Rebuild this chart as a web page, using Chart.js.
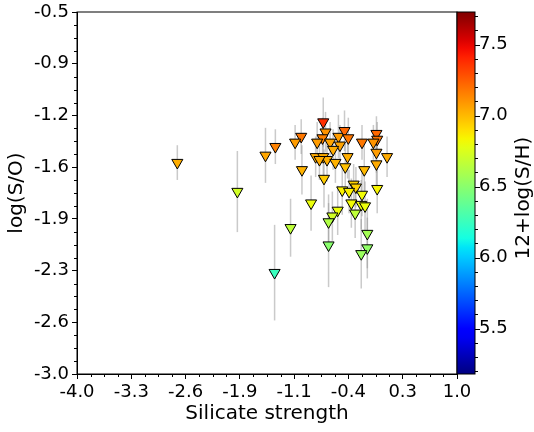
<!DOCTYPE html>
<html>
<head>
<meta charset="utf-8">
<script src="https://cdn.jsdelivr.net/npm/chart.js@4.4.1/dist/chart.umd.min.js"></script>
<style>
  html, body { margin: 0; padding: 0; background: #fff; }
</style>
</head>
<body>
<canvas id="silicateChart" width="534" height="432"></canvas>
<script>
// silicate strength (x), log(S/O) (y), its error, 12+log(S/H) (colour)
var silicate = [-2.68, -1.89, -1.52, -1.39, -1.19, -1.40, -1.05, -1.13, -1.04, -0.92,
  -0.76, -0.73, -0.77, -0.84, -0.67, -0.56, -0.48, -0.43, -0.54, -0.63,
  -0.86, -0.76, -0.71, -0.81, -0.60, -0.44, -0.47, -0.25, -0.06, -0.05,
  -0.10, -0.06, 0.08, -0.06, -0.22, -0.75, -0.51, -0.36, -0.33, -0.42,
  -0.25, -0.05, -0.39, -0.26, -0.21, -0.57, -0.64, -0.69, -0.34, -0.69,
  -0.18, -0.18, -0.26];
var logSO = [-1.54, -1.74, -1.49, -1.43, -1.99, -2.30, -1.36, -1.40, -1.59, -1.82,
  -1.26, -1.33, -1.37, -1.40, -1.40, -1.36, -1.32, -1.37, -1.42, -1.45,
  -1.50, -1.50, -1.52, -1.52, -1.54, -1.50, -1.57, -1.40, -1.34, -1.38,
  -1.40, -1.47, -1.50, -1.55, -1.59, -1.65, -1.73, -1.69, -1.71, -1.74,
  -1.76, -1.72, -1.82, -1.83, -1.84, -1.87, -1.91, -1.95, -1.89, -2.11,
  -2.03, -2.13, -2.17];
var logSOerr = [0.12, 0.28, 0.19, 0.12, 0.20, 0.33, 0.12, 0.12, 0.17, 0.19,
  0.17, 0.14, 0.14, 0.14, 0.14, 0.15, 0.14, 0.14, 0.14, 0.14,
  0.14, 0.15, 0.15, 0.14, 0.14, 0.15, 0.17, 0.12, 0.12, 0.12,
  0.12, 0.14, 0.14, 0.15, 0.17, 0.20, 0.17, 0.14, 0.14, 0.15,
  0.15, 0.17, 0.17, 0.17, 0.17, 0.17, 0.17, 0.19, 0.17, 0.29,
  0.24, 0.21, 0.24];
var logSH = [7.03, 6.72, 7.05, 7.15, 6.66, 6.25, 7.18, 7.08, 7.02, 6.80,
  7.38, 7.10, 7.15, 7.08, 7.06, 7.08, 7.22, 7.18, 7.06, 7.04,
  7.04, 7.03, 7.03, 7.04, 7.02, 7.03, 6.98, 7.18, 7.22, 7.18,
  7.10, 7.08, 7.04, 7.04, 7.00, 6.95, 6.85, 6.93, 6.93, 6.85,
  6.82, 6.84, 6.82, 6.80, 6.80, 6.80, 6.72, 6.62, 6.66, 6.50,
  6.58, 6.52, 6.55];

var xTickValues = [-4.0, -3.2857, -2.5714, -1.8571, -1.1429, -0.4286, 0.2857, 1.0];
var xTickLabels = ["-4.0", "-3.3", "-2.6", "-1.9", "-1.1", "-0.4", "0.3", "1.0"];
var yTickValues = [-3.0, -2.6429, -2.2857, -1.9286, -1.5714, -1.2143, -0.8571, -0.5];
var yTickLabels = ["-3.0", "-2.6", "-2.3", "-1.9", "-1.6", "-1.2", "-0.9", "-0.5"];
var cbTickValues = [5.5, 6.0, 6.5, 7.0, 7.5];
var cbMin = 5.18, cbMax = 7.73;

var FONT = "'DejaVu Sans', sans-serif";

// matplotlib "jet" segment data
var jetR = [[0, 0], [0.35, 0], [0.66, 1], [0.89, 1], [1, 0.5]];
var jetG = [[0, 0], [0.125, 0], [0.375, 1], [0.64, 1], [0.91, 0], [1, 0]];
var jetB = [[0, 0.5], [0.11, 1], [0.34, 1], [0.65, 0], [1, 0]];
function seg(pts, t) {
  for (var i = 1; i < pts.length; i++) {
    if (t <= pts[i][0]) {
      var a = pts[i - 1], b = pts[i];
      return a[1] + (b[1] - a[1]) * (t - a[0]) / (b[0] - a[0]);
    }
  }
  return pts[pts.length - 1][1];
}
function jet(t) {
  t = Math.max(0, Math.min(1, t));
  return "rgb(" + Math.round(seg(jetR, t) * 255) + "," + Math.round(seg(jetG, t) * 255) + "," +
    Math.round(seg(jetB, t) * 255) + ")";
}
function colourFor(v) { return jet((v - cbMin) / (cbMax - cbMin)); }

function minorBetween(majors) {
  var out = [];
  for (var i = 0; i < majors.length - 1; i++) {
    var step = (majors[i + 1] - majors[i]) / 4;
    for (var k = 1; k < 4; k++) out.push(majors[i] + k * step);
  }
  return out;
}

function noPad(s) { s.paddingTop = 0; s.paddingBottom = 0; s.paddingLeft = 0; s.paddingRight = 0; }

var points = silicate.map(function (x, i) { return { x: x, y: logSO[i] }; });

var extras = {
  id: "extras",
  beforeDatasetsDraw: function (chart) {
    var ctx = chart.ctx, xs = chart.scales.x, ys = chart.scales.y;
    ctx.save();
    ctx.strokeStyle = "rgba(150,150,150,0.5)";
    ctx.lineWidth = 1.5;
    for (var i = 0; i < silicate.length; i++) {
      var px = xs.getPixelForValue(silicate[i]);
      ctx.beginPath();
      ctx.moveTo(px, ys.getPixelForValue(logSO[i] - logSOerr[i]));
      ctx.lineTo(px, ys.getPixelForValue(logSO[i] + logSOerr[i]));
      ctx.stroke();
    }
    ctx.restore();
  },
  afterDraw: function (chart) {
    var ctx = chart.ctx, a = chart.chartArea;
    var xs = chart.scales.x, ys = chart.scales.y, cs = chart.scales.cb;
    ctx.save();
    ctx.strokeStyle = "#000";
    ctx.lineWidth = 1;
    ctx.strokeRect(a.left, a.top, a.right - a.left, a.bottom - a.top);

    // minor ticks
    ctx.beginPath();
    minorBetween(xTickValues).forEach(function (v) {
      var px = Math.round(xs.getPixelForValue(v)) + 0.5;
      ctx.moveTo(px, a.bottom); ctx.lineTo(px, a.bottom + 3);
    });
    minorBetween(yTickValues).forEach(function (v) {
      var py = Math.round(ys.getPixelForValue(v)) + 0.5;
      ctx.moveTo(a.left, py); ctx.lineTo(a.left - 3, py);
    });
    ctx.stroke();

    // colour bar
    var barL = a.right, barW = 18;
    var top = cs.getPixelForValue(cbMax), bot = cs.getPixelForValue(cbMin);
    var grad = ctx.createLinearGradient(0, bot, 0, top);
    for (var s = 0; s <= 40; s++) grad.addColorStop(s / 40, jet(s / 40));
    ctx.fillStyle = grad;
    ctx.fillRect(barL, top, barW, bot - top);
    ctx.strokeRect(barL, top, barW, bot - top);
    ctx.beginPath();
    for (var m = 52; m <= 77; m++) {
      var v = m / 10;
      var major = cbTickValues.indexOf(v) >= 0;
      var py = Math.round(cs.getPixelForValue(v)) + 0.5;
      ctx.moveTo(barL + barW, py);
      ctx.lineTo(barL + barW + (major ? 5 : 3), py);
    }
    ctx.stroke();

    ctx.translate(524, (top + bot) / 2 + 5);
    ctx.rotate(-Math.PI / 2);
    ctx.fillStyle = "#000";
    ctx.font = "20px " + FONT;
    ctx.textAlign = "center";
    ctx.textBaseline = "middle";
    ctx.fillText("12+log(S/H)", 0, 0);
    ctx.restore();
  }
};

new Chart(document.getElementById("silicateChart"), {
  type: "scatter",
  data: {
    datasets: [{
      data: points,
      pointStyle: "triangle",
      rotation: 180,
      pointRadius: 6.4,
      pointHoverRadius: 6.4,
      pointBorderWidth: 1,
      pointBorderColor: "#000",
      pointBackgroundColor: logSH.map(colourFor)
    }]
  },
  options: {
    responsive: false,
    animation: false,
    devicePixelRatio: 1,
    layout: { padding: { top: 12, left: 0, right: 0, bottom: 0 } },
    plugins: { legend: { display: false }, tooltip: { enabled: false } },
    scales: {
      x: {
        type: "linear", position: "bottom", min: -4, max: 1,
        afterBuildTicks: function (s) { s.ticks = xTickValues.map(function (v) { return { value: v }; }); },
        afterFit: function (s) { s.height = 58; noPad(s); },
        grid: { drawOnChartArea: false, tickLength: 5, color: "#000" },
        border: { color: "#000" },
        ticks: {
          autoSkip: false, maxRotation: 0, padding: 3, color: "#000",
          font: { family: FONT, size: 18 },
          callback: function (v, i) { return xTickLabels[i]; }
        },
        title: { display: true, text: "Silicate strength", color: "#000",
          font: { family: FONT, size: 20 }, padding: { top: 0, bottom: 6 } }
      },
      y: {
        type: "linear", position: "left", min: -3, max: -0.5,
        afterBuildTicks: function (s) { s.ticks = yTickValues.map(function (v) { return { value: v }; }); },
        afterFit: function (s) { s.width = 77; noPad(s); },
        grid: { drawOnChartArea: false, tickLength: 5, color: "#000" },
        border: { color: "#000" },
        ticks: {
          autoSkip: false, padding: 3, color: "#000",
          font: { family: FONT, size: 18 },
          callback: function (v, i) { return yTickLabels[i]; }
        },
        title: { display: true, text: "log(S/O)", color: "#000",
          font: { family: FONT, size: 20 }, padding: { top: 5, bottom: 0 } }
      },
      cb: {
        type: "linear", position: "right", min: cbMin, max: cbMax,
        afterBuildTicks: function (s) { s.ticks = cbTickValues.map(function (v) { return { value: v }; }); },
        afterFit: function (s) { s.width = 77; noPad(s); },
        grid: { display: false, drawTicks: false },
        border: { display: false },
        ticks: {
          autoSkip: false, padding: 22, color: "#000",
          font: { family: FONT, size: 18 },
          callback: function (v) { return v.toFixed(1); }
        }
      }
    }
  },
  plugins: [extras]
});
</script>
</body>
</html>
